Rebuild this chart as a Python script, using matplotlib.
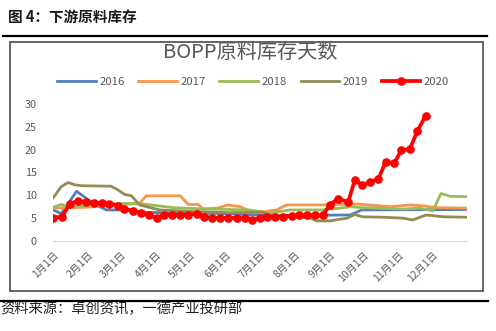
import numpy as np
import matplotlib
matplotlib.use("Agg")
import matplotlib.pyplot as plt
from matplotlib.lines import Line2D

plt.rcParams['font.family'] = ['Noto Sans CJK SC', 'DejaVu Sans']

# x positions are day-of-year (0 = 1月1日)
month_days = [0, 31, 60, 91, 121, 152, 182, 213, 244, 274, 305, 335]
month_labels = [f"{m}月1日" for m in range(1, 13)]

days_2016 = [0, 7, 14, 20.5, 31, 41, 47, 66, 70, 100, 150, 190, 262, 272, 365]
vals_2016 = [6.8, 6.0, 8.5, 10.9, 9.0, 7.5, 6.8, 6.8, 6.3, 6.2, 6.0, 5.6, 5.7, 6.8, 6.9]

days_2017 = [0, 30, 51, 76, 82, 112, 119, 128, 132, 145, 154, 165, 173, 188, 191, 197,
             206, 238, 250, 268, 279, 297, 315, 326, 338, 365]
vals_2017 = [7.2, 7.4, 7.9, 8.2, 9.9, 9.9, 8.0, 8.0, 7.0, 7.2, 7.9, 7.5, 6.6, 6.4, 6.6, 6.8,
             7.9, 7.9, 8.0, 8.1, 7.9, 7.5, 7.9, 7.7, 7.3, 7.2]

days_2018 = [0, 7, 13, 51, 76, 106, 135, 173, 191, 209, 238, 253, 262, 273, 309, 323,
             335, 342, 350, 365]
vals_2018 = [7.4, 8.0, 7.5, 8.2, 8.2, 7.3, 7.0, 6.8, 6.1, 6.8, 6.8, 7.2, 7.5, 7.3, 7.0, 7.2,
             6.6, 10.4, 9.8, 9.7]

days_2019 = [0, 7, 13, 19, 25, 51, 57, 63, 69, 76, 94, 129, 156, 185, 191, 227, 232, 244,
             259, 266, 273, 291, 309, 317, 329, 344, 365]
vals_2019 = [9.5, 11.9, 12.8, 12.3, 12.1, 12.0, 11.2, 10.2, 9.9, 7.9, 6.8, 6.4, 6.2, 6.3,
             5.7, 5.0, 4.4, 4.4, 5.0, 5.8, 5.3, 5.2, 5.0, 4.6, 5.7, 5.3, 5.2]

days_2020 = [0, 7.4, 14.7, 21.5, 28.8, 36.2, 42.7, 49.4, 56.8, 62.6, 70, 77.3, 84.7, 91.2,
             97.6, 104.7, 111.7, 119, 126.5, 132.9, 140.2, 147, 154, 161.7, 169, 175,
             182.3, 188.6, 195.5, 202.8, 210.2, 216.9, 224, 230.8, 237.6, 243.9, 251.3,
             260.1, 266, 272.8, 279.3, 286.6, 293.4, 300.7, 307.2, 314.5, 321.3, 328.4]
vals_2020 = [5.1, 5.3, 8.1, 8.8, 8.5, 8.4, 8.3, 8.2, 7.7, 7.1, 6.6, 6.2, 5.7, 5.0,
             5.7, 5.7, 5.7, 5.7, 6.0, 5.3, 5.1, 5.1, 5.1, 5.0, 5.0, 4.7,
             5.0, 5.3, 5.2, 5.3, 5.5, 5.6, 5.7, 5.6, 5.6, 7.9, 9.3,
             8.5, 13.3, 12.3, 12.9, 13.5, 17.4, 17.0, 19.9, 20.1, 24.1, 27.4]

yticks = [0, 5, 10, 15, 20, 25, 30]

c16, c17, c18, c19, c20 = "#4F81BD", "#F79646", "#9BBB59", "#948A54", "#FF0000"
gray = "#595959"

W, H = 496, 331
fig = plt.figure(figsize=(W / 100, H / 100), dpi=100)

def fx(px):
    return px / W

def fy(py):
    return 1 - py / H

# header / footer decoration
fig.text(fx(8), fy(17), "图 4：下游原料库存", fontsize=10.5, fontweight="bold",
         color="#1a1a1a", va="center", ha="left")
fig.add_artist(Line2D([fx(3), fx(487)], [fy(36), fy(36)], color="black", lw=1.6))
fig.add_artist(Line2D([fx(0), fx(488)], [fy(300.7), fy(300.7)], color="black", lw=1.6))
fig.text(fx(0), fy(309), "资料来源：卓创资讯，一德产业投研部", fontsize=10.3,
         color="#222222", va="center", ha="left")

# chart frame
frame = plt.Rectangle((fx(10), fy(291)), fx(483) - fx(10), fy(42) - fy(291),
                      transform=fig.transFigure, fill=False, edgecolor=gray, lw=1.3)
fig.add_artist(frame)

fig.text(fx(250), fy(52), "BOPP原料库存天数", fontsize=14.5, color=gray,
         ha="center", va="center")

ax = fig.add_axes([fx(53.3), fy(241), fx(467) - fx(53.3), fy(104) - fy(241)])
lw = 2.0
ax.plot(days_2016, vals_2016, color=c16, lw=lw, label="2016", zorder=2)
ax.plot(days_2017, vals_2017, color=c17, lw=lw, label="2017", zorder=2)
ax.plot(days_2018, vals_2018, color=c18, lw=lw, label="2018", zorder=2)
ax.plot(days_2019, vals_2019, color=c19, lw=lw, label="2019", zorder=2)
ax.plot(days_2020, vals_2020, color=c20, lw=2.7, marker="o", ms=5.2, label="2020", zorder=3)

ax.set_xlim(0, 365)
ax.set_ylim(0, 30)
ax.set_yticks(yticks)
ax.set_xticks(month_days)
ax.set_xticklabels(month_labels, rotation=45, ha="right", va="top", rotation_mode="anchor")
ax.tick_params(axis="x", length=0, pad=6, labelsize=7.5, labelcolor=gray)
ax.tick_params(axis="y", length=0, pad=12, labelsize=7.8, labelcolor=gray)
for s in ["top", "right", "left"]:
    ax.spines[s].set_visible(False)
ax.spines["bottom"].set_color("#d9d9d9")
ax.spines["bottom"].set_linewidth(0.8)
ax.patch.set_alpha(0)

leg = fig.legend(loc="center", bbox_to_anchor=(fx(253), fy(81.7)), ncol=5, frameon=False,
                 fontsize=8.2, handlelength=3.4, columnspacing=1.2, handletextpad=0.3,
                 labelcolor=gray)

fig.savefig("out.png", dpi=100)
